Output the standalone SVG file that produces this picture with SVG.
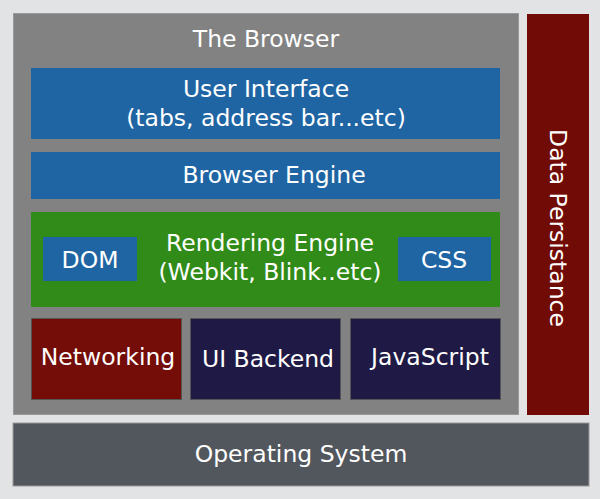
<svg xmlns="http://www.w3.org/2000/svg" width="600" height="499" viewBox="0 0 600 499">
<style>
text{font-family:"DejaVu Sans",sans-serif;fill:#fff;font-size:23.5px;text-anchor:middle}
.blue{fill:#1f65a3}
.navy{fill:#1f1a45;stroke:#555;stroke-width:1}
</style>
<rect width="600" height="499" fill="#e2e3e5"/>
<g id="browser"><rect x="13.5" y="13.5" width="505" height="401" fill="#828282" stroke="#999"/><text x="266" y="47">The Browser</text></g>
<g id="data-persistance"><rect x="527" y="14" width="62" height="401" fill="#700b06"/><text transform="translate(558,228) rotate(90)" dy="8">Data Persistance</text></g>
<g id="os"><rect x="13" y="423" width="576" height="63" fill="#52575e" stroke="#999"/><text x="301" y="462">Operating System</text></g>
<g id="ui"><rect class="blue" x="31" y="68" width="469" height="71"/><text x="266" y="97">User Interface</text><text x="266" y="126">(tabs, address bar...etc)</text></g>
<g id="engine"><rect class="blue" x="31" y="152" width="469" height="47"/><text x="274" y="183">Browser Engine</text></g>
<g id="rendering"><rect x="31" y="212" width="469" height="95" fill="#318b19"/><text x="270" y="251">Rendering Engine</text><text x="270" y="280">(Webkit, Blink..etc)</text></g>
<g id="dom"><rect class="blue" x="43" y="237" width="94" height="44"/><text x="90" y="268">DOM</text></g>
<g id="css"><rect class="blue" x="398" y="237" width="93" height="44"/><text x="444" y="268">CSS</text></g>
<g id="networking"><rect x="31.5" y="318.5" width="150" height="81" fill="#740d07" stroke="#555"/><text x="108" y="365">Networking</text></g>
<g id="uibackend"><rect class="navy" x="190.5" y="318.5" width="150" height="81"/><text x="268" y="367">UI Backend</text></g>
<g id="javascript"><rect class="navy" x="350.5" y="318.5" width="150" height="81"/><text x="430" y="365">JavaScript</text></g>
<g id="connectors"/>
</svg>
